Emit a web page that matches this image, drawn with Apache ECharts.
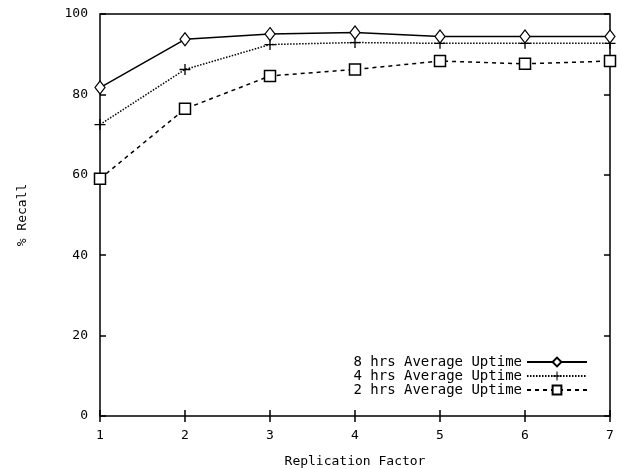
<!DOCTYPE html>
<html>
<head>
<meta charset="utf-8">
<script src="https://cdn.jsdelivr.net/npm/echarts@6/dist/echarts.min.js"></script>
<style>
html,body{margin:0;padding:0;background:#fff;}
#chart{width:622px;height:469px;}
</style>
</head>
<body>
<div id="chart"></div>
<script>
// replication factor
var factors = [1, 2, 3, 4, 5, 6, 7];
// % recall per average uptime
var up8 = [81.7, 93.7, 95.0, 95.4, 94.4, 94.4, 94.4];
var up4 = [72.5, 86.2, 92.4, 92.9, 92.7, 92.7, 92.7];
var up2 = [59.0, 76.4, 84.6, 86.2, 88.3, 87.6, 88.3];
var names = ['8 hrs Average Uptime', '4 hrs Average Uptime', '2 hrs Average Uptime'];

function pairs(arr) {
	return factors.map(function(f, i){ return [f, arr[i]] });
}

var font = 'DejaVu Sans Mono';
var plus = 'path://M4.4,0H5.6V4.4H10V5.6H5.6V10H4.4V5.6H0V4.4H4.4Z';
var tick = { inside: true, length: 6, lineStyle: { color: '#000', width: 1.5 } };

var myChart = echarts.init(document.getElementById('chart'));
var option = {
	animation: false,
	backgroundColor: '#fff',
	textStyle: { fontFamily: font, color: '#000' },
	grid: {
		left: 100, right: 12, top: 14, bottom: 53,
		outerBoundsMode: 'none',
		containLabel: false,
		show: true, borderColor: '#000', borderWidth: 1.5
	},
	legend: {
		orient: 'vertical',
		right: 29,
		top: 350,
		align: 'right',
		itemWidth: 60,
		itemHeight: 11,
		itemGap: 0,
		data: names,
		textStyle: { fontFamily: font, fontSize: 14, color: '#000', lineHeight: 13, height: 13 }
	},
	xAxis: [{
		type: 'value',
		min: 1, max: 7, interval: 1,
		name: 'Replication Factor',
		nameLocation: 'middle',
		nameGap: 39,
		nameTextStyle: { fontFamily: font, fontSize: 13, color: '#000' },
		axisLine: { show: false },
		axisTick: tick,
		axisLabel: { margin: 13, fontFamily: font, fontSize: 13, color: '#000' },
		splitLine: { show: false }
	}, {
		type: 'value',
		position: 'top',
		min: 1, max: 7, interval: 1,
		axisLine: { show: false },
		axisTick: tick,
		axisLabel: { show: false },
		splitLine: { show: false }
	}],
	yAxis: [{
		type: 'value',
		min: 0, max: 100, interval: 20,
		name: '% Recall',
		nameLocation: 'middle',
		nameGap: 71,
		nameTextStyle: { fontFamily: font, fontSize: 13, color: '#000' },
		axisLine: { show: false },
		axisTick: tick,
		axisLabel: { margin: 12, fontFamily: font, fontSize: 13, color: '#000' },
		splitLine: { show: false }
	}, {
		type: 'value',
		position: 'right',
		min: 0, max: 100, interval: 20,
		axisLine: { show: false },
		axisTick: tick,
		axisLabel: { show: false },
		splitLine: { show: false }
	}],
	series: [{
		name: names[0],
		type: 'line',
		data: pairs(up8),
		symbol: 'diamond',
		symbolSize: [10, 13],
		lineStyle: { color: '#000', width: 1.5, type: 'solid' },
		itemStyle: { color: '#fff', borderColor: '#000', borderWidth: 1.2 },
		z: 3
	}, {
		name: names[1],
		type: 'line',
		data: pairs(up4),
		symbol: plus,
		symbolSize: 11,
		lineStyle: { color: '#000', width: 1.5, type: [1.5, 1.5] },
		itemStyle: { color: '#000' },
		z: 2
	}, {
		name: names[2],
		type: 'line',
		data: pairs(up2),
		symbol: 'rect',
		symbolSize: 11,
		lineStyle: { color: '#000', width: 1.5, type: [4, 4] },
		itemStyle: { color: '#fff', borderColor: '#000', borderWidth: 1.5 },
		z: 2
	}]
};
myChart.setOption(option);
</script>
</body>
</html>
